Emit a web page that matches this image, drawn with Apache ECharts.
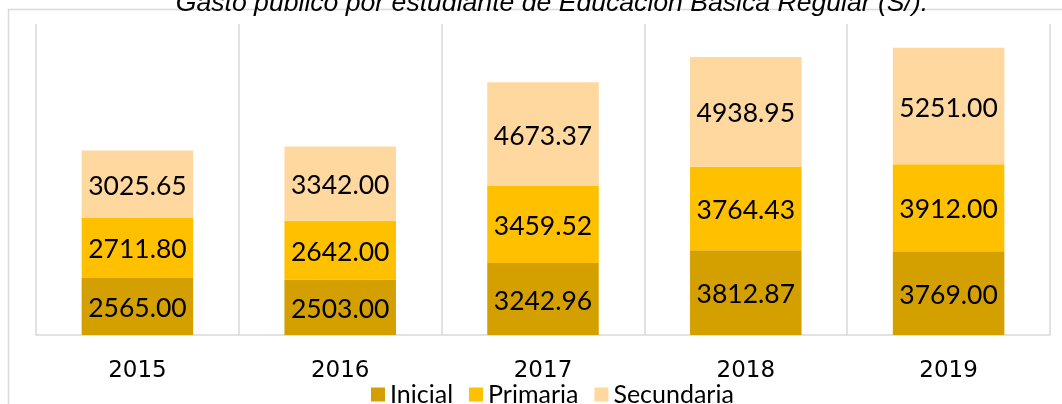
<!DOCTYPE html>
<html style="height: 100%">
    <head>
        <title>Gasto público por estudiante</title>
        <meta charset="utf-8">
    </head>
    <body style="height: 100%; margin: 0; background: #fff">
        <div id="container" style="width: 1062px; height: 404px"></div>

        <script type="text/javascript" src="https://cdn.jsdelivr.net/npm/echarts@6.0.0/dist/echarts.min.js"></script>
        <script type="text/javascript">
            var years = ['2015', '2016', '2017', '2018', '2019'];
            var inicial = [2565.00, 2503.00, 3242.96, 3812.87, 3769.00];
            var primaria = [2711.80, 2642.00, 3459.52, 3764.43, 3912.00];
            var secundaria = [3025.65, 3342.00, 4673.37, 4938.95, 5251.00];

            var dom = document.getElementById("container");
            var myChart = echarts.init(dom);

            var labelStyle = {
                show: true,
                position: 'inside',
                color: '#000',
                fontFamily: 'Lato',
                fontSize: 26.5,
                offset: [0, 2],
                formatter: function (p) { return p.value.toFixed(2); }
            };

            function serie(name, data, color) {
                return {
                    name: name,
                    type: 'bar',
                    stack: 'total',
                    barCategoryGap: '45%',
                    data: data,
                    itemStyle: { color: color },
                    label: labelStyle
                };
            }

            var option = {
                animation: false,
                title: {
                    text: 'Gasto público por estudiante de Educación Básica Regular (S/).',
                    left: 547,
                    textAlign: 'center',
                    top: -14.5,
                    textStyle: {
                        fontFamily: 'Liberation Sans',
                        fontStyle: 'italic',
                        fontWeight: 'normal',
                        fontSize: 26.6,
                        color: '#000'
                    }
                },
                graphic: [{
                    type: 'rect',
                    z: -1,
                    shape: { x: 8.5, y: 9.5, width: 1100, height: 420 },
                    style: { fill: 'none', stroke: '#d9d9d9', lineWidth: 1.5 }
                }],
                legend: {
                    left: 366,
                    top: 377,
                    itemWidth: 14,
                    itemHeight: 14,
                    itemGap: 16,
                    icon: 'rect',
                    textStyle: { fontFamily: 'Lato', fontSize: 25, color: '#000' },
                    data: ['Inicial', 'Primaria', 'Secundaria']
                },
                grid: { left: 36, right: 12, top: 24, bottom: 69 },
                xAxis: {
                    type: 'category',
                    data: years,
                    axisLine: { lineStyle: { color: '#d9d9d9', width: 1.5 } },
                    axisTick: { show: false },
                    splitLine: { show: true, lineStyle: { color: '#d9d9d9', width: 1.5 } },
                    axisLabel: {
                        margin: 25,
                        fontFamily: 'DejaVu Sans',
                        fontSize: 23,
                        color: '#000'
                    }
                },
                yAxis: {
                    type: 'value',
                    min: 0,
                    max: 14000,
                    show: false
                },
                series: [
                    serie('Inicial', inicial, '#d4a000'),
                    serie('Primaria', primaria, '#ffc000'),
                    serie('Secundaria', secundaria, '#ffd8a0')
                ]
            };

            myChart.setOption(option);
            window.onresize = function () {
                myChart.resize();
            };
        </script>
    </body>
</html>
